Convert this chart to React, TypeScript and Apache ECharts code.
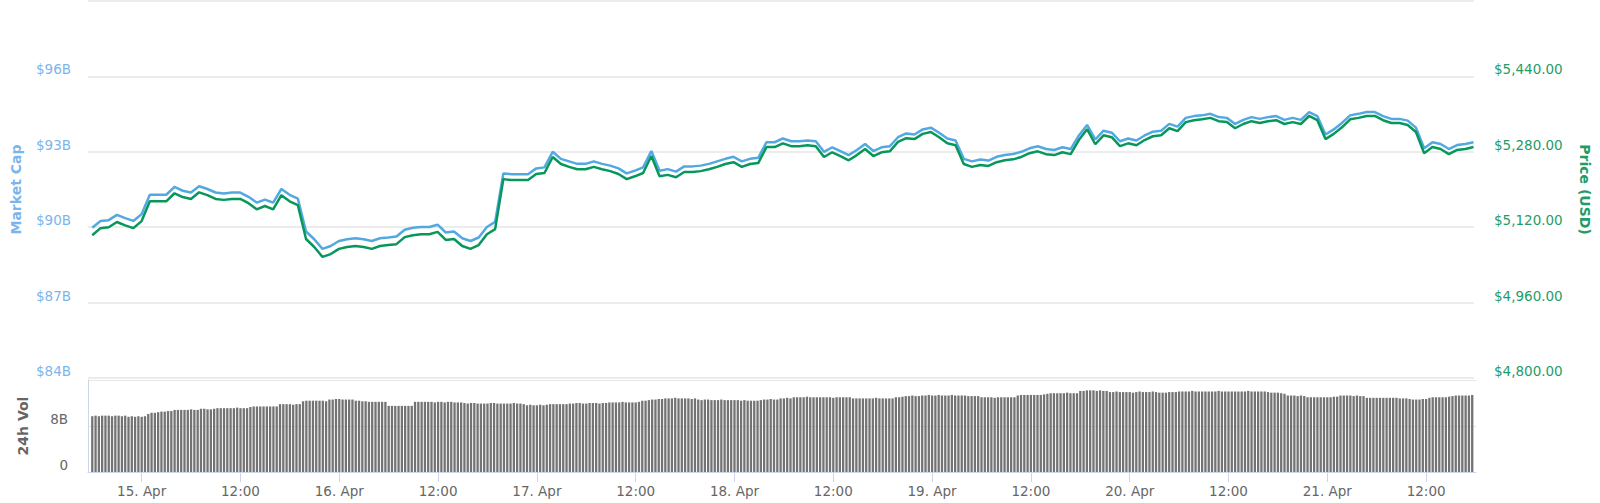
import { useRef, useEffect } from 'react';
import * as echarts from 'echarts';

// hours are counted from 15 Apr 00:00
const FIRST_HOUR = -6;
const VOLUME_STEP_HOURS = 0.4;
const X_MIN = -6.52;
const X_MAX = 162.06;
const LABEL_HOURS = [0, 12, 24, 36, 48, 60, 72, 84, 96, 108, 120, 132, 144, 156];

// hourly price, USD
const priceUsd = [
  5103, 5118, 5120, 5131, 5124, 5118,
  5133, 5175, 5175, 5175, 5192, 5184, 5180, 5194, 5188, 5180, 5178, 5180,
  5180, 5171, 5158, 5165, 5158, 5188, 5175, 5167, 5095, 5078, 5057, 5063,
  5074, 5078, 5080, 5078, 5074, 5080, 5082, 5084, 5099, 5103, 5105, 5105,
  5110, 5093, 5095, 5080, 5074, 5082, 5105, 5116, 5222, 5220, 5220, 5220,
  5233, 5235, 5269, 5254, 5248, 5243, 5243, 5248, 5243, 5239, 5233, 5222,
  5228, 5235, 5271, 5228, 5231, 5226, 5237, 5237, 5239, 5243, 5248, 5254,
  5258, 5248, 5254, 5256, 5290, 5290, 5298, 5292, 5292, 5294, 5292, 5269,
  5279, 5271, 5262, 5273, 5286, 5271, 5279, 5281, 5301, 5309, 5307, 5318,
  5322, 5311, 5298, 5294, 5254, 5248, 5252, 5250, 5258, 5262, 5264, 5269,
  5277, 5281, 5275, 5273, 5279, 5275, 5305, 5328, 5296, 5315, 5311, 5292,
  5298, 5294, 5305, 5313, 5315, 5330, 5324, 5343, 5347, 5349, 5352, 5345,
  5343, 5330, 5339, 5345, 5341, 5345, 5347, 5339, 5343, 5339, 5356, 5347,
  5307, 5318, 5332, 5349, 5352, 5356, 5356, 5347, 5341, 5341, 5337, 5322,
  5277, 5290, 5286, 5275, 5284, 5286, 5290,
];

// hourly market cap, billions USD
const marketCapB = [
  89.98, 90.25, 90.28, 90.49, 90.36, 90.25,
  90.52, 91.29, 91.29, 91.29, 91.6, 91.45, 91.38, 91.63, 91.52, 91.38, 91.34, 91.38,
  91.38, 91.21, 90.98, 91.1, 90.98, 91.52, 91.29, 91.14, 89.83, 89.52, 89.14, 89.25,
  89.45, 89.52, 89.56, 89.52, 89.45, 89.56, 89.59, 89.63, 89.9, 89.98, 90.01, 90.01,
  90.1, 89.79, 89.83, 89.56, 89.45, 89.59, 90.01, 90.21, 92.14, 92.11, 92.11, 92.11,
  92.34, 92.38, 93.0, 92.72, 92.62, 92.52, 92.52, 92.62, 92.52, 92.45, 92.34, 92.14,
  92.25, 92.38, 93.03, 92.25, 92.31, 92.21, 92.42, 92.42, 92.45, 92.52, 92.62, 92.72,
  92.8, 92.62, 92.72, 92.76, 93.38, 93.38, 93.53, 93.42, 93.42, 93.45, 93.42, 93.0,
  93.18, 93.03, 92.87, 93.07, 93.31, 93.03, 93.18, 93.22, 93.58, 93.73, 93.69, 93.89,
  93.96, 93.76, 93.53, 93.45, 92.72, 92.62, 92.69, 92.65, 92.8, 92.87, 92.91, 93.0,
  93.14, 93.22, 93.11, 93.07, 93.18, 93.11, 93.65, 94.07, 93.49, 93.84, 93.76, 93.42,
  93.53, 93.45, 93.65, 93.8, 93.84, 94.11, 94.0, 94.35, 94.42, 94.45, 94.51, 94.38,
  94.35, 94.11, 94.27, 94.38, 94.31, 94.38, 94.42, 94.27, 94.35, 94.27, 94.58, 94.42,
  93.69, 93.89, 94.15, 94.45, 94.51, 94.58, 94.58, 94.42, 94.31, 94.31, 94.24, 93.96,
  93.14, 93.38, 93.31, 93.11, 93.27, 93.31, 93.38,
];

// 24h volume every 24 minutes, billions USD
const volume24hB = [
  9.7, 9.8, 9.7, 9.8, 9.8, 9.8, 9.7, 9.8, 9.8, 9.7, 9.8, 9.6, 9.7, 9.6, 9.7,
  9.6, 9.7, 10.1, 10.3, 10.3, 10.4, 10.5, 10.5, 10.6, 10.6,
  10.8, 10.8, 10.8, 10.8, 10.8, 10.9, 10.8, 10.8, 11.0, 11.0, 10.9, 10.9, 11.0,
  11.1, 11.1, 11.1, 11.1, 11.1, 11.1, 11.2, 11.1, 11.1, 11.1,
  11.3, 11.4, 11.4, 11.4, 11.4, 11.4, 11.4, 11.4, 11.4,
  11.8, 11.8, 11.8, 11.8, 11.7, 11.8, 11.8,
  12.3, 12.4, 12.4, 12.4, 12.4, 12.4, 12.4, 12.3,
  12.6, 12.6, 12.7, 12.7, 12.6, 12.6, 12.6, 12.6,
  12.4, 12.4, 12.3, 12.3, 12.2, 12.2, 12.2, 12.2, 12.2, 12.2,
  11.5, 11.5, 11.5, 11.5, 11.5, 11.5, 11.5, 11.5,
  12.2, 12.2, 12.2, 12.2, 12.2, 12.2, 12.1, 12.2, 12.2, 12.1, 12.2, 12.2, 12.1, 12.1, 12.1, 12.0,
  11.9, 12.0, 12.0, 11.9, 11.9, 11.9, 11.9, 12.0, 12.0, 11.9, 11.9, 11.9, 11.9, 11.9, 12.0, 11.9, 11.9, 11.8,
  11.6, 11.7, 11.6, 11.6, 11.7, 11.6,
  11.7, 11.8, 11.8, 11.8, 11.8, 11.8, 11.8, 11.9,
  11.9, 12.0, 12.0, 11.9, 11.9, 12.0, 12.0, 12.0, 11.9, 12.0, 12.0,
  12.1, 12.1, 12.1, 12.1, 12.2, 12.1, 12.1, 12.1, 12.1, 12.2,
  12.4, 12.4, 12.5, 12.6, 12.6, 12.7, 12.7,
  12.8, 12.8, 12.8, 12.9, 12.8, 12.8, 12.8, 12.8, 12.7, 12.8,
  12.6, 12.5, 12.6, 12.6, 12.5,
  12.5, 12.5, 12.6, 12.5, 12.5, 12.5, 12.5, 12.5, 12.4, 12.5,
  12.4, 12.4, 12.4, 12.4, 12.5, 12.6, 12.6, 12.7, 12.6, 12.6,
  12.8, 12.8, 12.9, 12.8,
  13.0, 13.0, 13.0, 13.0, 13.1, 13.0, 13.0, 13.0, 13.0, 13.0, 13.0, 13.0, 12.9, 13.0, 13.0, 13.0, 13.0, 13.0,
  12.8, 12.8, 12.8, 12.8, 12.8, 12.8, 12.8, 12.9, 12.8, 12.8, 12.8, 12.8, 12.8,
  13.0, 13.0, 13.1, 13.2, 13.2, 13.3, 13.2, 13.2,
  13.3, 13.3, 13.4, 13.3, 13.3, 13.4, 13.3, 13.3, 13.3, 13.4, 13.3, 13.3, 13.3, 13.3,
  13.2, 13.2, 13.2, 13.2,
  13.0, 13.0, 13.0, 13.0, 12.9, 13.0, 13.0, 13.0, 13.0, 13.0, 13.0,
  13.3, 13.4, 13.4, 13.4, 13.4, 13.4, 13.4, 13.4, 13.5,
  13.6, 13.7, 13.7, 13.7, 13.7, 13.7, 13.8, 13.7, 13.7, 13.7,
  14.1, 14.1, 14.2, 14.2, 14.2, 14.1, 14.2, 14.1, 14.1,
  13.9, 13.9, 14.0, 13.9, 13.9, 13.9, 13.9, 13.8, 13.9, 14.0, 13.9, 13.9,
  13.9, 14.0, 13.9, 13.8, 13.8, 13.8, 13.9, 13.9, 13.9, 14.0, 14.0,
  14.0, 14.0, 14.1, 14.0, 14.0, 14.0, 14.0, 14.0, 14.0, 14.0, 14.1, 14.0, 14.0,
  14.0, 14.0, 14.0, 14.0, 14.0, 14.0, 14.1, 14.0, 14.0, 14.0, 14.0, 14.0,
  13.9, 13.8, 13.8, 13.8, 13.7, 13.6,
  13.3, 13.3, 13.3, 13.2, 13.3, 13.2,
  13.0, 13.0, 13.0, 13.0, 13.0, 13.0, 13.0, 13.0, 13.1, 13.1,
  13.3, 13.3, 13.3, 13.3, 13.2, 13.3, 13.2, 13.2,
  12.9, 12.9, 12.9, 12.9, 12.9, 12.9, 12.9, 12.9, 12.9, 12.9, 12.8, 12.8, 12.8,
  12.7, 12.6, 12.6, 12.6, 12.7, 12.7,
  12.9, 13.0, 13.0, 13.0, 13.0, 13.0, 13.1,
  13.2, 13.3, 13.3, 13.3, 13.3, 13.3, 13.4,
];

const FONT = 'DejaVu Sans';
const BLUE = '#52a9e2';
const BLUE_TEXT = '#7cb5ec';
const GREEN = '#07975c';
const GREEN_TEXT = '#1f9c68';
const GREY_TEXT = '#666666';
const GRID_LINE = '#e6e6e6';
const AXIS_LINE = '#ccd6eb';

function hourLabel(h: number) {
  if (h % 24 === 0) return `${15 + h / 24}. Apr`;
  return '12:00';
}

function usd(v: number) {
  return '$' + v.toLocaleString('en-US', { minimumFractionDigits: 2, maximumFractionDigits: 2 });
}

export default function App() {
  const chartRef = useRef<HTMLDivElement>(null);
  useEffect(() => {
    let chart: echarts.ECharts | undefined;
    if (chartRef.current) {
      chart = echarts.init(chartRef.current, undefined, { renderer: 'svg' });
      chart.setOption({
        animation: false,
        textStyle: { fontFamily: FONT },
        grid: [
          { left: 88, right: 124, top: 1, height: 377 },
          { left: 88, right: 124, top: 380, height: 92 },
        ],
        xAxis: [
          {
            type: 'value',
            gridIndex: 0,
            min: X_MIN,
            max: X_MAX,
            show: false,
            axisLine: { show: false },
            axisTick: { show: false },
            axisLabel: { show: false },
            splitLine: { show: false },
          },
          {
            type: 'value',
            gridIndex: 1,
            min: X_MIN,
            max: X_MAX,
            axisLine: { show: true, onZero: false, lineStyle: { color: AXIS_LINE } },
            axisTick: {
              show: true,
              length: 10,
              customValues: LABEL_HOURS,
              lineStyle: { color: AXIS_LINE },
            },
            axisLabel: {
              customValues: LABEL_HOURS,
              formatter: (v: number) => hourLabel(v),
              color: GREY_TEXT,
              fontSize: 13.5,
              margin: 12,
            },
            splitLine: { show: false },
          },
        ],
        yAxis: [
          {
            type: 'value',
            gridIndex: 0,
            position: 'left',
            min: 84,
            max: 99,
            interval: 3,
            name: 'Market Cap',
            nameLocation: 'middle',
            nameGap: 65,
            nameTextStyle: { color: BLUE_TEXT, fontWeight: 'bold', fontSize: 14 },
            axisLine: { show: false, onZero: false },
            axisTick: { show: false },
            axisLabel: {
              showMaxLabel: false,
              formatter: (v: number) => `$${v}B`,
              color: BLUE_TEXT,
              fontSize: 13.5,
              margin: 17,
              verticalAlign: 'bottom',
            },
            splitLine: { lineStyle: { color: GRID_LINE, width: 1.5 } },
          },
          {
            type: 'value',
            gridIndex: 0,
            position: 'right',
            min: 4800,
            max: 5600,
            interval: 160,
            name: 'Price (USD)',
            nameLocation: 'middle',
            nameRotate: -90,
            nameGap: 104,
            nameTextStyle: { color: GREEN_TEXT, fontWeight: 'bold', fontSize: 14 },
            axisLine: { show: false, onZero: false },
            axisTick: { show: false },
            axisLabel: {
              showMaxLabel: false,
              formatter: (v: number) => usd(v),
              color: GREEN_TEXT,
              fontSize: 13.5,
              margin: 20,
              verticalAlign: 'bottom',
            },
            splitLine: { show: false },
          },
          {
            type: 'value',
            gridIndex: 1,
            position: 'left',
            min: 0,
            max: 16,
            interval: 8,
            name: '24h Vol',
            nameLocation: 'middle',
            nameGap: 58,
            nameTextStyle: { color: GREY_TEXT, fontWeight: 'bold', fontSize: 14 },
            axisLine: { show: true, onZero: false, lineStyle: { color: AXIS_LINE } },
            axisTick: { show: false },
            axisLabel: {
              showMaxLabel: false,
              formatter: (v: number) => (v === 0 ? '0' : `${v}B`),
              color: GREY_TEXT,
              fontSize: 13.5,
              margin: 20,
              verticalAlign: 'bottom',
            },
            splitLine: { lineStyle: { color: GRID_LINE, width: 1 } },
          },
        ],
        series: [
          {
            name: 'Market Cap',
            type: 'line',
            xAxisIndex: 0,
            yAxisIndex: 0,
            showSymbol: false,
            lineStyle: { color: BLUE, width: 2.5 },
            itemStyle: { color: BLUE },
            data: marketCapB.map((v, i) => [FIRST_HOUR + i, v]),
          },
          {
            name: 'Price (USD)',
            type: 'line',
            xAxisIndex: 0,
            yAxisIndex: 1,
            showSymbol: false,
            lineStyle: { color: GREEN, width: 2.5 },
            itemStyle: { color: GREEN },
            data: priceUsd.map((v, i) => [FIRST_HOUR + i, v]),
          },
          {
            name: '24h Vol',
            type: 'bar',
            xAxisIndex: 1,
            yAxisIndex: 2,
            barWidth: 2.3,
            itemStyle: { color: '#737373' },
            data: volume24hB.map((v, i) => [FIRST_HOUR + i * VOLUME_STEP_HOURS, v]),
          },
        ],
      });
    }
    return () => {
      chart?.dispose();
    };
  }, []);

  return (
    <div
      ref={chartRef}
      style={{ position: 'absolute', left: 0, top: 0, width: 1600, height: 503 }}
    />
  );
}
